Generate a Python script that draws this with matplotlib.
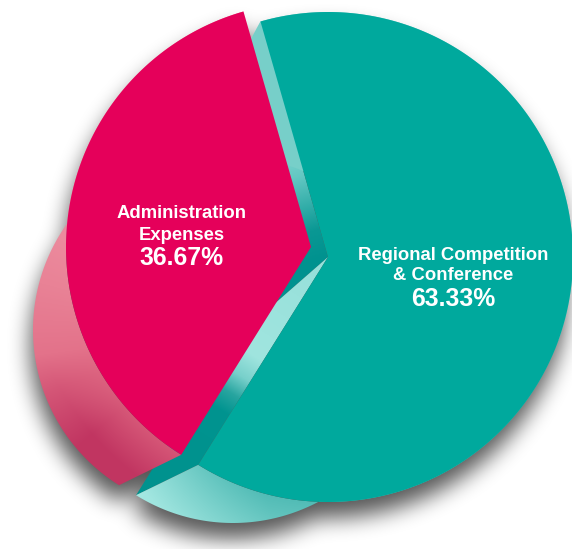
import numpy as np
import matplotlib.pyplot as plt
from matplotlib.patches import Polygon
from matplotlib.path import Path

# chart data
labels = ['Administration\nExpenses', 'Regional Competition\n& Conference']
values = [36.67, 63.33]
top_colors = ['#E5005A', '#00A99D']
start_angle = 106.0

W, H = 572, 549

# pie geometry in pixel coords (y down)
c_teal = np.array([328.0, 257.0])       # centre of teal top face
explode = np.array([-17.0, -10.0])      # pink slice pulled out
c_pink = c_teal + explode
depth = np.array([-95.0, 83.0])         # offset of the back face
r_top, r_back = 245.0, 183.0

total = sum(values)
a0 = start_angle
a1 = start_angle + 360.0 * values[0] / total
a2 = start_angle + 360.0


def arc(c, r, t0, t1, n=240):
    t = np.radians(np.linspace(t0, t1, n))
    return np.column_stack([c[0] + r * np.cos(t), c[1] - r * np.sin(t)])


def pt(c, r, t):
    t = np.radians(t)
    return np.array([c[0] + r * np.cos(t), c[1] - r * np.sin(t)])


def stops(f, pos, cols):
    cols = np.array(cols, dtype=float) / 255.0
    return np.stack([np.interp(f, pos, cols[:, k]) for k in range(3)], axis=-1)


def blur1d(a, r, axis):
    a = np.moveaxis(a, axis, -1)
    p = np.pad(a, [(0, 0)] * (a.ndim - 1) + [(r + 1, r)], mode='constant')
    cs = np.cumsum(p, axis=-1)
    out = (cs[..., 2 * r + 1:] - cs[..., :-2 * r - 1]) / (2 * r + 1)
    return np.moveaxis(out, -1, axis)


yy, xx = np.mgrid[0:H, 0:W] + 0.5

fig = plt.figure(figsize=(W / 100, H / 100), dpi=100)
ax = fig.add_axes([0, 0, 1, 1])


def grad_fill(poly, img, z):
    patch = Polygon(poly, closed=True, fc='none', ec='none')
    ax.add_patch(patch)
    im = ax.imshow(img, extent=(0, W, H, 0), zorder=z, interpolation='bilinear')
    im.set_clip_path(patch)


cb_teal = c_teal + depth
cb_pink = c_pink + depth

pink_top = np.vstack([c_pink, arc(c_pink, r_top, a0, a1)])
pink_side = np.vstack([arc(c_pink, r_top, a0, a1), arc(cb_pink, r_back, a1, a0)])
teal_top = np.vstack([c_teal, arc(c_teal, r_top, a1, a2)])
teal_side = np.vstack([arc(c_teal, r_top, a1, a2), arc(cb_teal, r_back, a2, a1)])
quad_up = np.array([c_teal, pt(c_teal, r_top, a0), pt(cb_teal, r_back, a0), cb_teal])
quad_lo = np.array([c_teal, pt(c_teal, r_top, a1), pt(cb_teal, r_back, a1), cb_teal])

# soft shadow
pts = np.column_stack([xx.ravel(), yy.ravel()])
mask = np.zeros(pts.shape[0], dtype=bool)
for poly in [pink_top, pink_side, teal_top, teal_side, quad_up, quad_lo]:
    mask |= Path(poly).contains_points(pts)
mask = mask.reshape(H, W).astype(float)
mask = np.roll(mask, (16, -2), axis=(0, 1))
for _ in range(3):
    mask = blur1d(mask, 10, 0)
    mask = blur1d(mask, 10, 1)
shadow = np.zeros((H, W, 4))
shadow[..., 3] = 0.66 * mask
ax.imshow(shadow, extent=(0, W, H, 0), zorder=0, interpolation='bilinear')

# upper cut face of the teal slice
u = pt(c_teal, r_top, a0) - c_teal
t_up = ((xx - c_teal[0]) * u[0] + (yy - c_teal[1]) * u[1]) / (u @ u)
img = stops(t_up, [0.0, 0.12, 0.35, 0.6, 1.0],
            [(0, 146, 143), (10, 152, 148), (100, 200, 195), (158, 228, 222), (165, 231, 225)])
grad_fill(quad_up, img, 1)

# lower cut face of the teal slice
u = pt(c_teal, r_top, a1) - c_teal
L = np.hypot(*u)
t_lo = ((xx - c_teal[0]) * u[0] + (yy - c_teal[1]) * u[1]) / (L * L)
img = stops(t_lo, [0.0, 0.5, 0.6, 0.68, 0.76, 1.0],
            [(150, 224, 218), (160, 229, 223), (120, 208, 203), (40, 165, 160), (0, 148, 144), (0, 146, 142)])
grad_fill(quad_lo, img, 1)

# teal outer side
ang = np.degrees(np.arctan2(-(yy - cb_teal[1]), xx - cb_teal[0])) % 360.0
an = np.clip((ang - a1) / 44.0, 0, 1)
q = np.clip((np.hypot(xx - c_teal[0], yy - c_teal[1]) - r_top) / 55.0, 0, 1)
f = np.clip(0.45 + 0.55 * q - 0.45 * an, 0, 1)
img = stops(f, [0.0, 1.0], [(82, 188, 182), (165, 232, 226)])
grad_fill(teal_side, img, 2)

ax.add_patch(Polygon(teal_top, closed=True, fc=top_colors[1], ec='none', zorder=3))

# pink outer side
ang = np.degrees(np.arctan2(-(yy - cb_pink[1]), xx - cb_pink[0])) % 360.0
q = np.clip((np.hypot(xx - c_pink[0], yy - c_pink[1]) - r_top) / 55.0, 0, 1)
base = stops(ang, [150, 165, 200, 238], [(236, 138, 157), (233, 130, 150), (224, 106, 132), (222, 100, 128)])
m = np.clip((ang - 188) / 32.0, 0, 1) * np.clip(0.3 + 0.9 * q, 0, 1) * 0.85
dark = np.array([188, 45, 92]) / 255.0
img = base * (1 - m[..., None]) + dark * m[..., None]
grad_fill(pink_side, img, 4)

ax.add_patch(Polygon(pink_top, closed=True, fc=top_colors[0], ec='none', zorder=5))

# labels
font = dict(color='white', fontweight='bold', family=['Liberation Sans', 'DejaVu Sans'],
            ha='center', va='center', zorder=10)
name0 = labels[0].split('\n')
ax.text(182, 213, name0[0], fontsize=13.3, **font)
ax.text(182, 235, name0[1], fontsize=13.3, **font)
ax.text(182, 258, f'{values[0]:.2f}%', fontsize=17.8, **font)
name1 = labels[1].split('\n')
ax.text(453, 255, name1[0], fontsize=13.3, **font)
ax.text(453, 276, name1[1], fontsize=13.3, **font)
ax.text(453, 299, f'{values[1]:.2f}%', fontsize=17.8, **font)

ax.set_xlim(0, W)
ax.set_ylim(H, 0)
ax.axis('off')
fig.savefig('out.png', dpi=100)
